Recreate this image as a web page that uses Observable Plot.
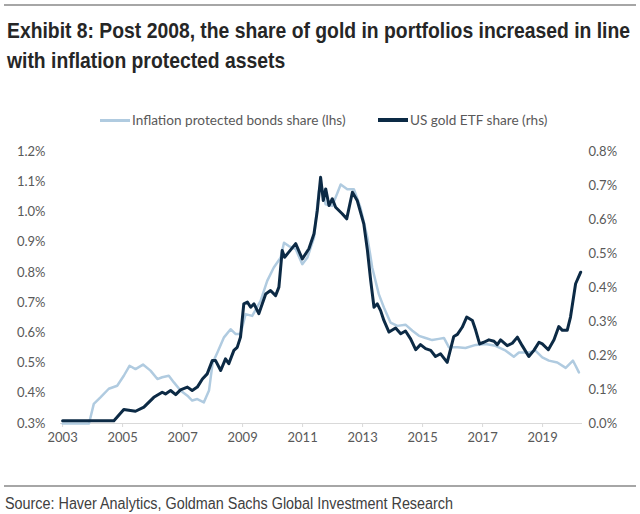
<!DOCTYPE html>
<html>
<head>
<meta charset="utf-8">
<script src="https://cdn.jsdelivr.net/npm/d3@7"></script>
<script src="https://cdn.jsdelivr.net/npm/@observablehq/plot@0.6"></script>
<style>
  html, body { margin: 0; padding: 0; background: #fff; }
  #page { position: relative; width: 640px; height: 514px; overflow: hidden; background: #fff; }
  .rule { position: absolute; left: 4px; width: 632px; height: 1.5px; background: #a6a6a6; }
  #title { position: absolute; left: 7px; top: 16px; font-family: "Liberation Sans", Arial, sans-serif; font-weight: bold; font-size: 22px; line-height: 30px; color: #262626; white-space: nowrap; transform-origin: 0 0; }
  #title span { display: block; }
  #source { position: absolute; left: 5px; top: 494px; font-family: "Liberation Sans", Arial, sans-serif; font-size: 16px; line-height: 20px; color: #404040; white-space: nowrap; transform-origin: 0 0; }
  .leg { position: absolute; top: 112px; height: 16px; display: flex; align-items: center; font-family: Lato, sans-serif; font-size: 13.6px; color: #595959; white-space: nowrap; }
  .sw { display: inline-block; width: 30px; height: 3px; margin-right: 2px; }
  #chart { position: absolute; left: 0; top: 140px; }
</style>
</head>
<body>
<div id="page">
  <div class="rule" style="top:4px"></div>
  <div id="title"><span id="t1">Exhibit 8: Post 2008, the share of gold in portfolios increased in line</span><span>with inflation protected assets</span></div>
  <div class="leg" style="left:100px"><span class="sw" style="background:#b0cbe0"></span><span id="leg1t"></span></div>
  <div class="leg" style="left:378px"><span class="sw" style="background:#0c2a45;height:3.5px"></span><span id="leg2t"></span></div>
  <div id="chart"></div>
  <div class="rule" style="top:485px"></div>
  <div id="source">Source: Haver Analytics, Goldman Sachs Global Investment Research</div>
</div>
<script>
// ---- data ----
const seriesNames = ["Inflation protected bonds share (lhs)", "US gold ETF share (rhs)"];

const tipsYear = [2003.0, 2003.5, 2003.88, 2004.04, 2004.27, 2004.54, 2004.82, 2005.04, 2005.23, 2005.43,
  2005.68, 2005.93, 2006.16, 2006.32, 2006.54, 2006.71, 2006.93, 2007.16, 2007.32, 2007.49,
  2007.71, 2007.88, 2008.0, 2008.16, 2008.38, 2008.6, 2008.77, 2008.93, 2009.1, 2009.32,
  2009.6, 2009.82, 2010.04, 2010.27, 2010.38, 2010.54, 2010.77, 2010.99, 2011.16, 2011.38,
  2011.54, 2011.64, 2011.77, 2011.99, 2012.27, 2012.49, 2012.71, 2012.93, 2013.16, 2013.27,
  2013.32, 2013.54, 2013.71, 2013.93, 2014.16, 2014.43, 2014.66, 2014.88, 2015.1, 2015.32,
  2015.54, 2015.71, 2015.88, 2016.16, 2016.43, 2016.77, 2017.1, 2017.43, 2017.77, 2018.04,
  2018.21, 2018.54, 2018.76, 2018.99, 2019.21, 2019.49, 2019.77, 2020.01, 2020.1, 2020.21];
const tipsShare = [0.300, 0.300, 0.300, 0.365, 0.387, 0.415, 0.425, 0.458, 0.491, 0.480,
  0.495, 0.475, 0.447, 0.453, 0.458, 0.436, 0.409, 0.392, 0.376, 0.381,
  0.370, 0.409, 0.500, 0.535, 0.585, 0.612, 0.596, 0.596, 0.662, 0.656,
  0.706, 0.772, 0.816, 0.849, 0.898, 0.887, 0.877, 0.827, 0.849, 0.915,
  1.069, 1.080, 1.025, 1.020, 1.091, 1.075, 1.075, 1.014, 0.915, 0.849,
  0.816, 0.728, 0.684, 0.634, 0.623, 0.627, 0.607, 0.590, 0.583, 0.576,
  0.580, 0.583, 0.552, 0.552, 0.550, 0.560, 0.563, 0.557, 0.541, 0.521,
  0.535, 0.535, 0.541, 0.519, 0.508, 0.502, 0.484, 0.508, 0.491, 0.469];

const goldYear = [2003.0, 2004.71, 2005.04, 2005.43, 2005.71, 2006.04, 2006.32, 2006.43, 2006.6, 2006.77,
  2006.93, 2007.16, 2007.32, 2007.49, 2007.66, 2007.82, 2007.99, 2008.1, 2008.27, 2008.43,
  2008.54, 2008.71, 2008.82, 2008.93, 2009.04, 2009.16, 2009.27, 2009.38, 2009.54, 2009.77,
  2009.93, 2010.1, 2010.21, 2010.32, 2010.4, 2010.54, 2010.77, 2010.99, 2011.21, 2011.38,
  2011.49, 2011.6, 2011.69, 2011.77, 2011.88, 2011.99, 2012.1, 2012.32, 2012.47, 2012.66,
  2012.82, 2013.04, 2013.16, 2013.27, 2013.38, 2013.49, 2013.6, 2013.71, 2013.88, 2014.1,
  2014.27, 2014.43, 2014.6, 2014.77, 2014.93, 2015.1, 2015.27, 2015.43, 2015.6, 2015.82,
  2016.04, 2016.16, 2016.32, 2016.47, 2016.66, 2016.77, 2016.9, 2017.04, 2017.21, 2017.38,
  2017.49, 2017.6, 2017.82, 2017.99, 2018.16, 2018.32, 2018.54, 2018.71, 2018.88, 2018.99,
  2019.19, 2019.38, 2019.54, 2019.66, 2019.82, 2019.93, 2020.1, 2020.27];
const goldShare = [0.008, 0.008, 0.041, 0.036, 0.048, 0.077, 0.092, 0.087, 0.097, 0.085,
  0.099, 0.107, 0.097, 0.107, 0.131, 0.146, 0.185, 0.185, 0.156, 0.190,
  0.176, 0.215, 0.224, 0.254, 0.352, 0.357, 0.342, 0.352, 0.323, 0.381,
  0.391, 0.376, 0.401, 0.509, 0.489, 0.504, 0.529, 0.484, 0.514, 0.558,
  0.626, 0.724, 0.656, 0.690, 0.641, 0.661, 0.636, 0.617, 0.602, 0.680,
  0.656, 0.587, 0.510, 0.420, 0.342, 0.352, 0.332, 0.303, 0.269, 0.281,
  0.264, 0.272, 0.249, 0.217, 0.232, 0.220, 0.215, 0.197, 0.205, 0.180,
  0.256, 0.262, 0.283, 0.313, 0.303, 0.274, 0.234, 0.239, 0.246, 0.242,
  0.232, 0.246, 0.229, 0.236, 0.254, 0.229, 0.197, 0.215, 0.239, 0.234,
  0.217, 0.246, 0.285, 0.274, 0.274, 0.313, 0.411, 0.445];

const xTicks = [2003, 2005, 2007, 2009, 2011, 2013, 2015, 2017, 2019];
const leftTicks = [0.3, 0.4, 0.5, 0.6, 0.7, 0.8, 0.9, 1.0, 1.1, 1.2];
const rightTicks = [0.0, 0.1, 0.2, 0.3, 0.4, 0.5, 0.6, 0.7, 0.8];

// ---- dual-axis mapping (rhs values onto the lhs scale) ----
const L0 = 0.3, L1 = 1.2, R1 = 0.8;
const toLeft = r => L0 + r * (L1 - L0) / R1;
const toRight = l => (l - L0) * R1 / (L1 - L0);

const tips = tipsYear.map((x, i) => ({x, v: tipsShare[i]}));
const gold = goldYear.map((x, i) => ({x, v: toLeft(goldShare[i])}));

document.getElementById("leg1t").textContent = seriesNames[0];
document.getElementById("leg2t").textContent = seriesNames[1];

// condense title/source (narrow typeface look) to the reference widths
function fitWidth(el, measureEl, target) {
  const w = measureEl.getBoundingClientRect().width;
  if (w > 0) el.style.transform = `scaleX(${target / w})`;
}
const t1 = document.getElementById("t1");
t1.style.display = "inline-block";
fitWidth(document.getElementById("title"), t1, 623);
t1.style.display = "block";
const src = document.getElementById("source");
src.style.display = "inline-block";
fitWidth(src, src, 448);

const chart = Plot.plot({
  width: 640,
  height: 313,
  marginLeft: 60,
  marginRight: 58,
  marginTop: 11,
  marginBottom: 30,
  x: {domain: [2002.93, 2020.33]},
  y: {domain: [L0, L1]},
  style: {fontFamily: "Lato, sans-serif", fontSize: "13px", color: "#595959", background: "white", overflow: "visible"},
  marks: [
    Plot.ruleY([L0], {stroke: "#d9d9d9", strokeWidth: 1}),
    Plot.axisX({ticks: xTicks, tickFormat: d => String(d), tickSize: 4, tickPadding: 5, stroke: "#d9d9d9", fill: "#595959", label: null, fontSize: 13}),
    Plot.axisY({ticks: leftTicks, tickFormat: d => d.toFixed(1) + "%", tickSize: 0, tickPadding: 15, anchor: "left", label: null, fill: "#595959", fontSize: 13}),
    Plot.axisY(rightTicks.map(toLeft), {tickFormat: d => Math.abs(toRight(d)).toFixed(1) + "%", tickSize: 0, tickPadding: 6, anchor: "right", label: null, fill: "#595959", fontSize: 13}),
    Plot.line(tips, {x: "x", y: "v", stroke: "#b0cbe0", strokeWidth: 2.5}),
    Plot.line(gold, {x: "x", y: "v", stroke: "#0c2a45", strokeWidth: 3})
  ]
});
document.getElementById("chart").appendChild(chart);
</script>
</body>
</html>
